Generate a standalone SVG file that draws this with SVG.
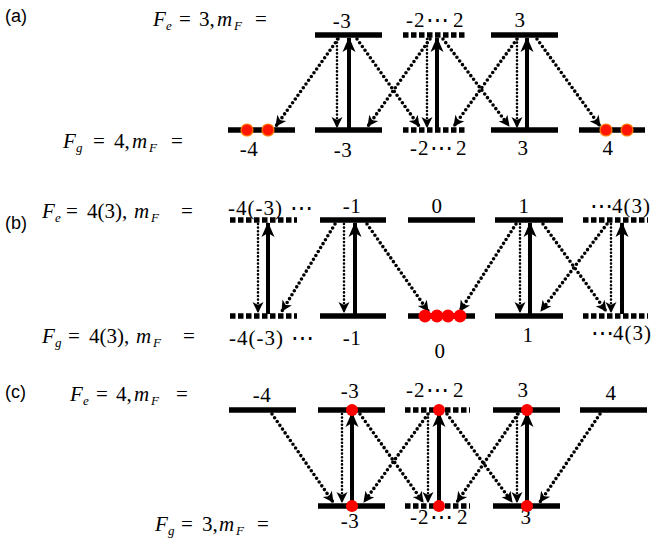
<svg xmlns="http://www.w3.org/2000/svg" width="658" height="544" viewBox="0 0 658 544">
<style>
.bar{stroke:#000;stroke-width:5.5;fill:none}
.dbar{stroke:#000;stroke-width:5.5;fill:none;stroke-dasharray:5.5 2.5}
.up{stroke:#000;stroke-width:4;fill:none;marker-end:url(#ah)}
.vd{stroke:#000;stroke-width:2.6;fill:none;stroke-dasharray:0 3.6;stroke-linecap:round;marker-end:url(#dh)}
.dg{stroke:#000;stroke-width:3.6;fill:none;stroke-dasharray:0 4.6;stroke-linecap:round;marker-end:url(#dh)}
.num{font-family:"Liberation Serif","Times New Roman","DejaVu Serif",serif;font-size:21px;letter-spacing:0.5px;fill:#000;text-anchor:middle}
.numl{font-family:"Liberation Serif","Times New Roman","DejaVu Serif",serif;font-size:21px;fill:#000}
.lab{font-family:"Liberation Sans",Arial,sans-serif;font-size:18px;fill:#000}
.eq{font-family:"Liberation Serif","Times New Roman","DejaVu Serif",serif;font-size:21px;fill:#000}
.it{font-style:italic}
.sub{font-style:italic;font-size:13px}
.ls1{letter-spacing:1px}
.ls2{letter-spacing:2px}
.el{font-size:23px}
.dot{fill:#ff1500;stroke:#ff7a00;stroke-width:1.2}
.dot2{fill:#ff0000}
</style>
<defs>
<marker id="ah" markerUnits="userSpaceOnUse" markerWidth="18" markerHeight="16" viewBox="-16 -8 18 16" refX="0" refY="0" orient="auto">
<path d="M1,0 L-14,-6.5 L-10,0 L-14,6.5 Z" fill="#000"/>
</marker>
<marker id="dh" markerUnits="userSpaceOnUse" markerWidth="14" markerHeight="12" viewBox="-12 -6 14 12" refX="0" refY="0" orient="auto">
<path d="M1,0 L-10,-5.5 L-7,0 L-10,5.5 Z" fill="#000"/>
</marker>
</defs>

<text class="lab" x="5" y="22">(a)</text>
<text class="lab" x="5" y="229">(b)</text>
<text class="lab" x="5" y="398">(c)</text>

<!-- equations -->
<text class="eq" y="26"><tspan class="it" x="153">F</tspan><tspan class="sub" x="166" dy="4">e</tspan><tspan x="179" dy="-4">=</tspan><tspan x="199">3,</tspan><tspan class="it" x="217">m</tspan><tspan class="sub" x="234" dy="4">F</tspan><tspan x="255" dy="-4">=</tspan></text>
<text class="eq" y="148"><tspan class="it" x="63">F</tspan><tspan class="sub" x="76" dy="4">g</tspan><tspan x="93" dy="-4">=</tspan><tspan x="114">4,</tspan><tspan class="it" x="132">m</tspan><tspan class="sub" x="149" dy="4">F</tspan><tspan x="171" dy="-4">=</tspan></text>
<text class="eq" y="218"><tspan class="it" x="42">F</tspan><tspan class="sub" x="55" dy="4">e</tspan><tspan x="66" dy="-4">=</tspan><tspan x="87">4(3),</tspan><tspan class="it" x="134">m</tspan><tspan class="sub" x="151" dy="4">F</tspan><tspan x="181" dy="-4">=</tspan></text>
<text class="eq" y="343"><tspan class="it" x="42">F</tspan><tspan class="sub" x="55" dy="4">g</tspan><tspan x="68" dy="-4">=</tspan><tspan x="89">4(3),</tspan><tspan class="it" x="136">m</tspan><tspan class="sub" x="153" dy="4">F</tspan><tspan x="183" dy="-4">=</tspan></text>
<text class="eq" y="401"><tspan class="it" x="70">F</tspan><tspan class="sub" x="83" dy="4">e</tspan><tspan x="96" dy="-4">=</tspan><tspan x="116">4,</tspan><tspan class="it" x="134">m</tspan><tspan class="sub" x="151" dy="4">F</tspan><tspan x="176" dy="-4">=</tspan></text>
<text class="eq" y="531"><tspan class="it" x="155">F</tspan><tspan class="sub" x="168" dy="4">g</tspan><tspan x="181" dy="-4">=</tspan><tspan x="202">3,</tspan><tspan class="it" x="219">m</tspan><tspan class="sub" x="236" dy="4">F</tspan><tspan x="257" dy="-4">=</tspan></text>

<!-- Panel (a) levels -->
<g id="a-e-m3"><line class="bar" x1="315" y1="35" x2="382" y2="35"/><text class="num" x="342" y="28">-3</text></g>
<g id="a-e-m2to2"><line class="dbar" x1="403" y1="35" x2="467" y2="35"/><text class="numl" y="27"><tspan class="ls1" x="406">-2</tspan><tspan class="el" x="426">⋯</tspan><tspan x="453">2</tspan></text></g>
<g id="a-e-3"><line class="bar" x1="491" y1="35" x2="558" y2="35"/><text class="num" x="520" y="27">3</text></g>
<g id="a-g-m4"><line class="bar" x1="228" y1="130" x2="295" y2="130"/><text class="num" x="249" y="156">-4</text></g>
<g id="a-g-m3"><line class="bar" x1="315" y1="130" x2="382" y2="130"/><text class="num" x="343" y="157">-3</text></g>
<g id="a-g-m2to2"><line class="dbar" x1="403" y1="130" x2="467" y2="130"/><text class="numl" y="155"><tspan class="ls1" x="410">-2</tspan><tspan class="el" x="430">⋯</tspan><tspan x="456">2</tspan></text></g>
<g id="a-g-3"><line class="bar" x1="491" y1="130" x2="558" y2="130"/><text class="num" x="523" y="155">3</text></g>
<g id="a-g-4"><line class="bar" x1="579" y1="130" x2="645" y2="130"/><text class="num" x="608" y="155">4</text></g>

<!-- Panel (b) levels -->
<g id="b-e-m4"><line class="dbar" x1="230" y1="220" x2="297" y2="220"/><text class="numl" y="215"><tspan class="ls1" x="228">-4(-3)</tspan><tspan class="el" x="290">⋯</tspan></text></g>
<g id="b-e-m1"><line class="bar" x1="320" y1="220" x2="386" y2="220"/><text class="num" x="352" y="213">-1</text></g>
<g id="b-e-0"><line class="bar" x1="408" y1="220" x2="475" y2="220"/><text class="num" x="437" y="213">0</text></g>
<g id="b-e-1"><line class="bar" x1="495" y1="220" x2="563" y2="220"/><text class="num" x="524" y="213">1</text></g>
<g id="b-e-4"><line class="dbar" x1="583" y1="220" x2="648" y2="220"/><text class="numl" y="213"><tspan class="el" x="590">⋯</tspan><tspan class="ls1" x="612">4(3)</tspan></text></g>
<g id="b-g-m4"><line class="dbar" x1="230" y1="316" x2="297" y2="316"/><text class="numl" y="345"><tspan class="ls1" x="229">-4(-3)</tspan><tspan class="el" x="291">⋯</tspan></text></g>
<g id="b-g-m1"><line class="bar" x1="320" y1="316" x2="386" y2="316"/><text class="num" x="352" y="345">-1</text></g>
<g id="b-g-0"><line class="bar" x1="408" y1="316" x2="475" y2="316"/><text class="num" x="440" y="358">0</text></g>
<g id="b-g-1"><line class="bar" x1="495" y1="316" x2="563" y2="316"/><text class="num" x="528" y="342">1</text></g>
<g id="b-g-4"><line class="dbar" x1="583" y1="316" x2="648" y2="316"/><text class="numl" y="340"><tspan class="el" x="591">⋯</tspan><tspan class="ls1" x="613">4(3)</tspan></text></g>

<!-- Panel (c) levels -->
<g id="c-e-m4"><line class="bar" x1="229" y1="410" x2="296" y2="410"/><text class="num" x="262" y="402">-4</text></g>
<g id="c-e-m3"><line class="bar" x1="318" y1="410" x2="385" y2="410"/><text class="num" x="350" y="398">-3</text></g>
<g id="c-e-m2to2"><line class="dbar" x1="405" y1="410" x2="470" y2="410"/><text class="numl" y="397"><tspan class="ls1" x="406">-2</tspan><tspan class="el" x="426">⋯</tspan><tspan x="453">2</tspan></text></g>
<g id="c-e-3"><line class="bar" x1="493" y1="410" x2="560" y2="410"/><text class="num" x="523" y="397">3</text></g>
<g id="c-e-4"><line class="bar" x1="580" y1="410" x2="647" y2="410"/><text class="num" x="611" y="400">4</text></g>
<g id="c-g-m3"><line class="bar" x1="318" y1="506" x2="385" y2="506"/><text class="num" x="350" y="528">-3</text></g>
<g id="c-g-m2to2"><line class="dbar" x1="405" y1="506" x2="470" y2="506"/><text class="numl" y="524"><tspan class="ls1" x="410">-2</tspan><tspan class="el" x="430">⋯</tspan><tspan x="457">2</tspan></text></g>
<g id="c-g-3"><line class="bar" x1="493" y1="506" x2="560" y2="506"/><text class="num" x="526" y="524">3</text></g>

<g id="connectors">
<!-- (a) -->
<line class="up" x1="349" y1="128" x2="349" y2="38"/>
<line class="vd" x1="337" y1="39" x2="337" y2="127"/>
<line class="up" x1="437" y1="128" x2="437" y2="38"/>
<line class="vd" x1="427" y1="39" x2="427" y2="127"/>
<line class="up" x1="527" y1="128" x2="527" y2="38"/>
<line class="vd" x1="517" y1="39" x2="517" y2="127"/>
<line class="dg" x1="338" y1="39" x2="276" y2="126"/>
<line class="dg" x1="357" y1="39" x2="419" y2="126"/>
<line class="dg" x1="430" y1="39" x2="368" y2="126"/>
<line class="dg" x1="443" y1="39" x2="509" y2="126"/>
<line class="dg" x1="517" y1="39" x2="454" y2="126"/>
<line class="dg" x1="537" y1="39" x2="600" y2="126"/>
<!-- (b) -->
<line class="up" x1="268" y1="314" x2="268" y2="223"/>
<line class="vd" x1="258" y1="224" x2="258" y2="312"/>
<line class="up" x1="355" y1="314" x2="355" y2="223"/>
<line class="vd" x1="344" y1="224" x2="344" y2="312"/>
<line class="up" x1="530" y1="314" x2="530" y2="223"/>
<line class="vd" x1="520" y1="224" x2="520" y2="312"/>
<line class="up" x1="622" y1="314" x2="622" y2="223"/>
<line class="vd" x1="611" y1="224" x2="611" y2="312"/>
<line class="dg" x1="335" y1="224" x2="282" y2="311"/>
<line class="dg" x1="367" y1="224" x2="428" y2="311"/>
<line class="dg" x1="516" y1="224" x2="460" y2="311"/>
<line class="dg" x1="543" y1="224" x2="606" y2="311"/>
<line class="dg" x1="607" y1="224" x2="541" y2="311"/>
<!-- (c) -->
<line class="up" x1="352" y1="504" x2="352" y2="413"/>
<line class="vd" x1="342" y1="414" x2="342" y2="502"/>
<line class="up" x1="439" y1="504" x2="439" y2="413"/>
<line class="vd" x1="428" y1="414" x2="428" y2="502"/>
<line class="up" x1="527" y1="504" x2="527" y2="413"/>
<line class="vd" x1="517" y1="414" x2="517" y2="502"/>
<line class="dg" x1="272" y1="414" x2="333" y2="502"/>
<line class="dg" x1="360" y1="414" x2="423" y2="502"/>
<line class="dg" x1="428" y1="414" x2="364" y2="502"/>
<line class="dg" x1="447" y1="414" x2="512" y2="502"/>
<line class="dg" x1="518" y1="414" x2="457" y2="502"/>
<line class="dg" x1="600" y1="414" x2="540" y2="502"/>
</g>

<g id="atoms">
<circle class="dot" cx="247" cy="130" r="6"/>
<circle class="dot" cx="268" cy="130" r="6"/>
<circle class="dot" cx="606" cy="130" r="6"/>
<circle class="dot" cx="627" cy="130" r="6"/>
<circle class="dot2" cx="425" cy="316" r="6.5"/>
<circle class="dot2" cx="437" cy="316" r="6.5"/>
<circle class="dot2" cx="448" cy="316" r="6.5"/>
<circle class="dot2" cx="460" cy="316" r="6.5"/>
<circle class="dot2" cx="352" cy="410" r="6"/>
<circle class="dot2" cx="439" cy="410" r="6"/>
<circle class="dot2" cx="527" cy="410" r="6"/>
<circle class="dot2" cx="352" cy="506" r="6"/>
<circle class="dot2" cx="439" cy="506" r="6"/>
<circle class="dot2" cx="527" cy="506" r="6"/>
</g>
</svg>
